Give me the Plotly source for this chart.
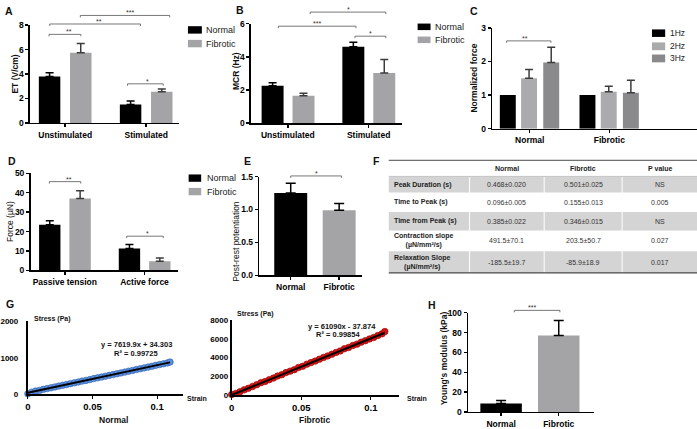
import plotly.graph_objects as go

W, H = 697, 429
FONT = "Liberation Sans, Arial, Helvetica, sans-serif"

# ------------------------------------------------------------------ data
A_categories = ["Unstimulated", "Stimulated"]
A_normal = [3.8, 1.5]
A_normal_err = [0.3, 0.3]
A_fibrotic = [5.75, 2.55]
A_fibrotic_err = [0.75, 0.22]

B_categories = ["Unstimulated", "Stimulated"]
B_normal = [2.25, 4.6]
B_normal_err = [0.18, 0.28]
B_fibrotic = [1.65, 3.02]
B_fibrotic_err = [0.15, 0.82]

C_categories = ["Normal", "Fibrotic"]
C_1hz = [1.0, 1.0]
C_2hz = [1.5, 1.1]
C_2hz_err = [0.26, 0.16]
C_3hz = [1.97, 1.07]
C_3hz_err = [0.45, 0.37]

D_categories = ["Passive tension", "Active force"]
D_normal = [23.5, 11.3]
D_normal_err = [2.0, 2.0]
D_fibrotic = [37.0, 4.7]
D_fibrotic_err = [4.0, 1.7]

E_categories = ["Normal", "Fibrotic"]
E_values = [1.25, 0.99]
E_err = [0.15, 0.10]

H_categories = ["Normal", "Fibrotic"]
H_values = [8.5, 77.0]
H_err = [3.0, 15.0]

# significance brackets: (x start, x end in category units, level, label)
A_sig = [(-0.20, 0.194, 7.25, "**"), (-0.19, 0.93, 8.1, "**"),
         (0.187, 1.29, 8.8, "***"), (0.77, 1.21, 3.2, "*")]
B_sig = [(0.277, 1.213, 6.69, "*"), (-0.117, 0.844, 5.84, "***"),
         (0.831, 1.213, 5.24, "*")]
C_sig = [(-0.29, 0.266, 2.61, "**")]
D_sig = [(-0.194, 0.20, 45.7, "**"), (0.776, 1.235, 17.6, "*")]
E_sig = [(0.0, 1.05, 1.51, "*")]
H_sig = [(0.23, 1.02, 102.3, "***")]

# table F
T_header = ["Normal", "Fibrotic", "P value"]
T_labels = ["Peak Duration (s)", "Time to Peak (s)", "Time from Peak (s)",
            "Contraction slope<br>(µN/mm²/s)", "Relaxation Slope<br>(µN/mm²/s)"]
T_normal = ["0.468±0.020", "0.096±0.005", "0.385±0.022", "491.5±70.1", "-185.5±19.7"]
T_fibrotic = ["0.501±0.025", "0.155±0.013", "0.346±0.015", "203.5±50.7", "-85.9±18.9"]
T_pvalue = ["NS", "0.005", "NS", "0.027", "0.017"]

# G stress-strain
G_strain = [0.000, 0.003, 0.006, 0.009, 0.012, 0.015, 0.018, 0.021, 0.024, 0.027,
            0.030, 0.033, 0.036, 0.039, 0.042, 0.045, 0.048, 0.051, 0.054, 0.057,
            0.060, 0.063, 0.066, 0.069, 0.072, 0.075, 0.078, 0.081, 0.084, 0.087,
            0.090, 0.093, 0.096, 0.099, 0.102, 0.105, 0.108, 0.110]
G_normal_stress = [5, 52, 82, 100, 128, 150, 172, 196, 218, 240,
                   262, 286, 308, 330, 356, 376, 398, 425, 446, 468,
                   492, 514, 536, 560, 582, 604, 630, 650, 674, 696,
                   720, 742, 764, 790, 812, 834, 858, 880]
G_fibrotic_stress = [20, 140, 330, 520, 690, 880, 1080, 1300, 1420, 1620,
                     1790, 2010, 2160, 2380, 2540, 2700, 2930, 3060, 3290, 3460,
                     3620, 3820, 4020, 4180, 4360, 4560, 4720, 4960, 5090, 5300,
                     5450, 5660, 5820, 6010, 6160, 6380, 6560, 6800]
G_normal_fit = (7619.9, 34.303, 0.99725)
G_fibrotic_fit = (61090.0, -37.874, 0.99854)

# ------------------------------------------------------------------ geometry
P = {
    "A": dict(n=1, x=(26, 176), y=(20.7, 120.7), xr=[-0.436, 1.405], yr=[0, 8]),
    "B": dict(n=2, x=(248.3, 400), y=(19, 121), xr=[-0.458, 1.41], yr=[0, 6]),
    "C": dict(n=3, x=(491, 697), y=(23.3, 126.7), xr=[-0.471, 2.1], yr=[0, 3]),
    "D": dict(n=4, x=(26.7, 175), y=(172.3, 271.7), xr=[-0.43, 1.42], yr=[0, 50]),
    "E": dict(n=5, x=(256.7, 360), y=(175.7, 276.7), xr=[-0.65, 1.47], yr=[0, 1.5]),
    "G1": dict(n=6, x=(24, 180), y=(324, 398.3), xr=[0, 0.12], yr=[0, 2000]),
    "G2": dict(n=7, x=(229, 397), y=(323, 399), xr=[0, 0.12], yr=[0, 8000]),
    "H": dict(n=8, x=(466.7, 593.3), y=(315, 416.7), xr=[-0.574, 1.61], yr=[0, 100]),
}

BLACK = "#000000"
GRAY = "#a4a4a6"
GRAY2 = "#8a8a8c"
ERR_GRAY = "#3c3c3c"

fig = go.Figure()
shapes, annotations = [], []
layout = {}


def sfx(p):
    return "" if p["n"] == 1 else str(p["n"])


def to_paper(p, xv, yv):
    x0, x1 = p["x"]
    top, bot = p["y"]
    xr, yr = p["xr"], p["yr"]
    px = x0 + (xv - xr[0]) / (xr[1] - xr[0]) * (x1 - x0)
    py = bot - (yv - yr[0]) / (yr[1] - yr[0]) * (bot - top)
    return px / W, 1 - py / H


def txt(x, y, text, size, bold=False, xanchor="center", yanchor="middle", angle=0, color="#111"):
    annotations.append(dict(x=x / W, y=1 - y / H, xref="paper", yref="paper", text=text,
                            showarrow=False, xanchor=xanchor, yanchor=yanchor, textangle=angle,
                            borderpad=0,
                            font=dict(family=FONT, size=size, color=color,
                                      weight="bold" if bold else "normal")))


def rect(x0, y0, x1, y1, color):
    shapes.append(dict(type="rect", xref="paper", yref="paper", x0=x0 / W, x1=x1 / W,
                       y0=1 - y1 / H, y1=1 - y0 / H, fillcolor=color, line=dict(width=0)))


def hline(x0, x1, y, color, width):
    shapes.append(dict(type="line", xref="paper", yref="paper", x0=x0 / W, x1=x1 / W,
                       y0=1 - y / H, y1=1 - y / H, line=dict(color=color, width=width)))


def vline(x, y0, y1, color, width):
    shapes.append(dict(type="line", xref="paper", yref="paper", x0=x / W, x1=x / W,
                       y0=1 - y0 / H, y1=1 - y1 / H, line=dict(color=color, width=width)))


def set_axes(p, xkw, ykw):
    s = sfx(p)
    base = dict(showline=True, linecolor="black", linewidth=1.5, ticks="outside", ticklen=3,
                tickwidth=1.5, tickcolor="black", showgrid=False, zeroline=False, fixedrange=True,
                tickfont=dict(family=FONT, size=8.5, color="black", weight="bold"))
    xa = dict(base, domain=[p["x"][0] / W, p["x"][1] / W], range=p["xr"], anchor="y" + s)
    ya = dict(base, domain=[1 - p["y"][1] / H, 1 - p["y"][0] / H], range=p["yr"], anchor="x" + s)
    xa.update(xkw)
    ya.update(ykw)
    layout["xaxis" + s] = xa
    layout["yaxis" + s] = ya


def add_bars(p, cats, vals, errs, color, errcolor, offset=None, width=None):
    s = sfx(p)
    if errs:
        ey = dict(type="data", array=errs, arrayminus=[0] * len(vals), symmetric=False,
                  color=errcolor, thickness=1.5, width=4)
    else:
        ey = dict(visible=False)
    fig.add_trace(go.Bar(x=cats, y=vals, offset=offset, width=width,
                         marker=dict(color=color, line=dict(width=0)), error_y=ey,
                         xaxis="x" + s, yaxis="y" + s, showlegend=False, hoverinfo="skip"))


def add_sig(p, specs):
    d = 2.0 / H
    for xa, xb, yv, label in specs:
        ax, ay = to_paper(p, xa, yv)
        bx, by = to_paper(p, xb, yv)
        shapes.append(dict(type="path", xref="paper", yref="paper",
                           path=f"M {ax},{ay - d} L {ax},{ay} L {bx},{by} L {bx},{by - d}",
                           line=dict(color="#555555", width=0.8)))
        annotations.append(dict(x=(ax + bx) / 2, y=ay, xref="paper", yref="paper", text=label,
                                showarrow=False, yanchor="bottom", yshift=-2, borderpad=0,
                                font=dict(family=FONT, size=7, color="#333333")))


def legend(items, x0, x1, text_x, size=9):
    for (label, color, ytop, ybot) in items:
        rect(x0, ytop, x1, ybot, color)
        txt(text_x, (ytop + ybot) / 2, label, size, xanchor="left", color="#222")


cat_kw = dict(type="category")

# ---------------- Panel A
p = P["A"]
add_bars(p, A_categories, A_normal, A_normal_err, BLACK, BLACK, -0.325, 0.265)
add_bars(p, A_categories, A_fibrotic, A_fibrotic_err, GRAY, ERR_GRAY, 0.06, 0.265)
set_axes(p, cat_kw, dict(tickvals=[0, 2, 4, 6, 8]))
add_sig(p, A_sig)
legend([("Normal", BLACK, 21.7, 29.3), ("Fibrotic", GRAY, 35.7, 43.3)], 185, 199, 202)
txt(11.5, 70.8, "ET (V/cm)", 8.5, bold=True, angle=-90)
txt(5, 6, "A", 10.5, bold=True)

# ---------------- Panel B
p = P["B"]
add_bars(p, B_categories, B_normal, B_normal_err, BLACK, BLACK, -0.325, 0.272)
add_bars(p, B_categories, B_fibrotic, B_fibrotic_err, GRAY, ERR_GRAY, 0.058, 0.272)
set_axes(p, cat_kw, dict(tickvals=[0, 2, 4, 6]))
add_sig(p, B_sig)
legend([("Normal", BLACK, 19, 25.7), ("Fibrotic", GRAY, 32.3, 39)], 416, 429, 432.5)
txt(233.5, 67.5, "MCR (Hz)", 8.5, bold=True, angle=-90)
txt(237, 5, "B", 10.5, bold=True)

# ---------------- Panel C
p = P["C"]
add_bars(p, C_categories, C_1hz, None, BLACK, BLACK, -0.375, 0.2)
add_bars(p, C_categories, C_2hz, C_2hz_err, "#ababad", ERR_GRAY, -0.108, 0.2)
add_bars(p, C_categories, C_3hz, C_3hz_err, GRAY2, ERR_GRAY, 0.17, 0.2)
set_axes(p, cat_kw, dict(tickvals=[0, 1, 2, 3]))
add_sig(p, C_sig)
legend([("1Hz", BLACK, 25, 32.7), ("2Hz", "#ababad", 38.3, 46.3), ("3Hz", GRAY2, 50.7, 58.7)],
       651.7, 665, 669, size=8.5)
txt(473, 75, "Normalized force", 8.5, bold=True, angle=-90)
txt(473, 6, "C", 10.5, bold=True)

# ---------------- Panel D
p = P["D"]
add_bars(p, D_categories, D_normal, D_normal_err, BLACK, BLACK, -0.323, 0.268)
add_bars(p, D_categories, D_fibrotic, D_fibrotic_err, GRAY, ERR_GRAY, 0.058, 0.268)
set_axes(p, cat_kw, dict(tickvals=[0, 10, 20, 30, 40, 50]))
add_sig(p, D_sig)
legend([("Normal", BLACK, 173.5, 181), ("Fibrotic", GRAY, 187.3, 194.8)], 185.7, 198.3, 203)
txt(5.5, 221.7, "Force (µN)", 8.5, angle=-90)
txt(8, 160, "D", 10.5, bold=True)

# ---------------- Panel E
p = P["E"]
fig.add_trace(go.Bar(x=E_categories, y=E_values, width=0.68,
                     marker=dict(color=[BLACK, GRAY], line=dict(width=0)),
                     error_y=dict(type="data", array=E_err, arrayminus=[0, 0], symmetric=False,
                                  color=BLACK, thickness=1.5, width=5),
                     xaxis="x5", yaxis="y5", showlegend=False, hoverinfo="skip"))
set_axes(p, cat_kw, dict(tickvals=[0, 0.5, 1.0, 1.5], tickformat=".1f"))
add_sig(p, E_sig)
txt(233, 241.7, "Post-rest potentiation", 8.5, angle=-90)
txt(245, 160, "E", 10.5, bold=True)

# ---------------- Panel H
p = P["H"]
fig.add_trace(go.Bar(x=H_categories, y=H_values, width=0.72,
                     marker=dict(color=[BLACK, GRAY], line=dict(width=0)),
                     error_y=dict(type="data", array=H_err, arrayminus=[0, 0], symmetric=False,
                                  color=BLACK, thickness=1.5, width=5),
                     xaxis="x8", yaxis="y8", showlegend=False, hoverinfo="skip"))
set_axes(p, cat_kw, dict(tickvals=[0, 20, 40, 60, 80, 100]))
add_sig(p, H_sig)
txt(442.5, 361.7, "Young's modulus (kPa)", 8.5, bold=True, angle=-90)
txt(430, 307, "H", 10.5, bold=True)

# ---------------- Panel G
for key, stress, fit, col, edge in (("G1", G_normal_stress, G_normal_fit, "#5b8edb", "#2f5fb0"),
                                   ("G2", G_fibrotic_stress, G_fibrotic_fit, "#d41414", "#9a0000")):
    p = P[key]
    s = sfx(p)
    fig.add_trace(go.Scatter(x=G_strain, y=stress, mode="markers",
                             marker=dict(size=6.5, color=col, line=dict(color=edge, width=0.6)),
                             xaxis="x" + s, yaxis="y" + s, showlegend=False, hoverinfo="skip",
                             cliponaxis=False))
    slope, icpt, _ = fit
    xs = [min(G_strain), max(G_strain)]
    fig.add_trace(go.Scatter(x=xs, y=[slope * v + icpt for v in xs], mode="lines",
                             line=dict(color="black", width=2),
                             xaxis="x" + s, yaxis="y" + s, showlegend=False, hoverinfo="skip"))

gx = dict(tickvals=[0, 0.05, 0.1], ticktext=["0", "0.05", "0.1"], linewidth=2, tickwidth=1,
          tickfont=dict(family=FONT, size=9.5, color="black", weight="bold"))
set_axes(P["G1"], gx, dict(tickvals=[0, 1000, 2000], ticks="", linewidth=2, ticklabelstandoff=6,
                           tickfont=dict(family=FONT, size=8, color="black", weight="bold")))
set_axes(P["G2"], gx, dict(tickvals=[0, 2000, 4000, 6000, 8000], ticks="", linewidth=2,
                           tickfont=dict(family=FONT, size=8, color="black", weight="bold")))
txt(48.5, 321, "Stress (Pa)", 7, bold=True)
txt(252.5, 316, "Stress (Pa)", 7, bold=True)
txt(183, 403, "Strain", 7, bold=True, xanchor="left")
txt(404, 403, "Strain", 7, bold=True, xanchor="left")
txt(133, 348, f"y = {G_normal_fit[0]}x + {G_normal_fit[1]}", 7.5, bold=True)
txt(132.5, 357, f"R² = {G_normal_fit[2]}", 7.5, bold=True)
txt(339.5, 329, f"y = {G_fibrotic_fit[0]:.0f}x - {abs(G_fibrotic_fit[1])}", 7.5, bold=True)
txt(336, 337.5, f"R² = {G_fibrotic_fit[2]}", 7.5, bold=True)
txt(110, 425, "Normal", 8.5, bold=True)
txt(312, 425, "Fibrotic", 8.5, bold=True)
txt(6, 306, "G", 10.5, bold=True)

# ---------------- Panel F (table)
col_b = [387, 468.3, 543.3, 621.7, 697]
row_b = [176, 192, 212, 231, 252, 274.3]
for i in range(len(T_labels)):
    if i % 2 == 0:
        rect(col_b[0], row_b[i], col_b[-1], row_b[i + 1], "#d4d4d4")
for xb in col_b[1:-1]:
    vline(xb, row_b[0], row_b[-1], "#ffffff", 1)
hline(col_b[0], col_b[-1], 159, "#4a4a4a", 1)
hline(col_b[0], col_b[-1], 175.5, "#9a9a9a", 0.6)
hline(col_b[0], col_b[-1], 274.3, "#4a4a4a", 1.2)
for j, h in enumerate(T_header):
    txt((col_b[j + 1] + col_b[j + 2]) / 2, 167.7, h, 7, bold=True, color="#222")
for i in range(len(T_labels)):
    yc = (row_b[i] + row_b[i + 1]) / 2
    txt(391.5, yc, T_labels[i], 7, bold=True, xanchor="left", color="#222")
    for j, col in enumerate((T_normal, T_fibrotic, T_pvalue)):
        txt((col_b[j + 1] + col_b[j + 2]) / 2, yc, col[i], 7, color="#333")
txt(375, 160, "F", 10.5, bold=True)

fig.update_layout(width=W, height=H, margin=dict(l=0, r=0, t=0, b=0),
                  paper_bgcolor="white", plot_bgcolor="rgba(0,0,0,0)",
                  font=dict(family=FONT, color="black"),
                  shapes=shapes, annotations=annotations, showlegend=False,
                  barmode="group", **layout)
fig.write_html("out.html", config={"displayModeBar": False, "staticPlot": True},
               post_script="document.body.style.margin='0';document.body.style.overflow='hidden';")
